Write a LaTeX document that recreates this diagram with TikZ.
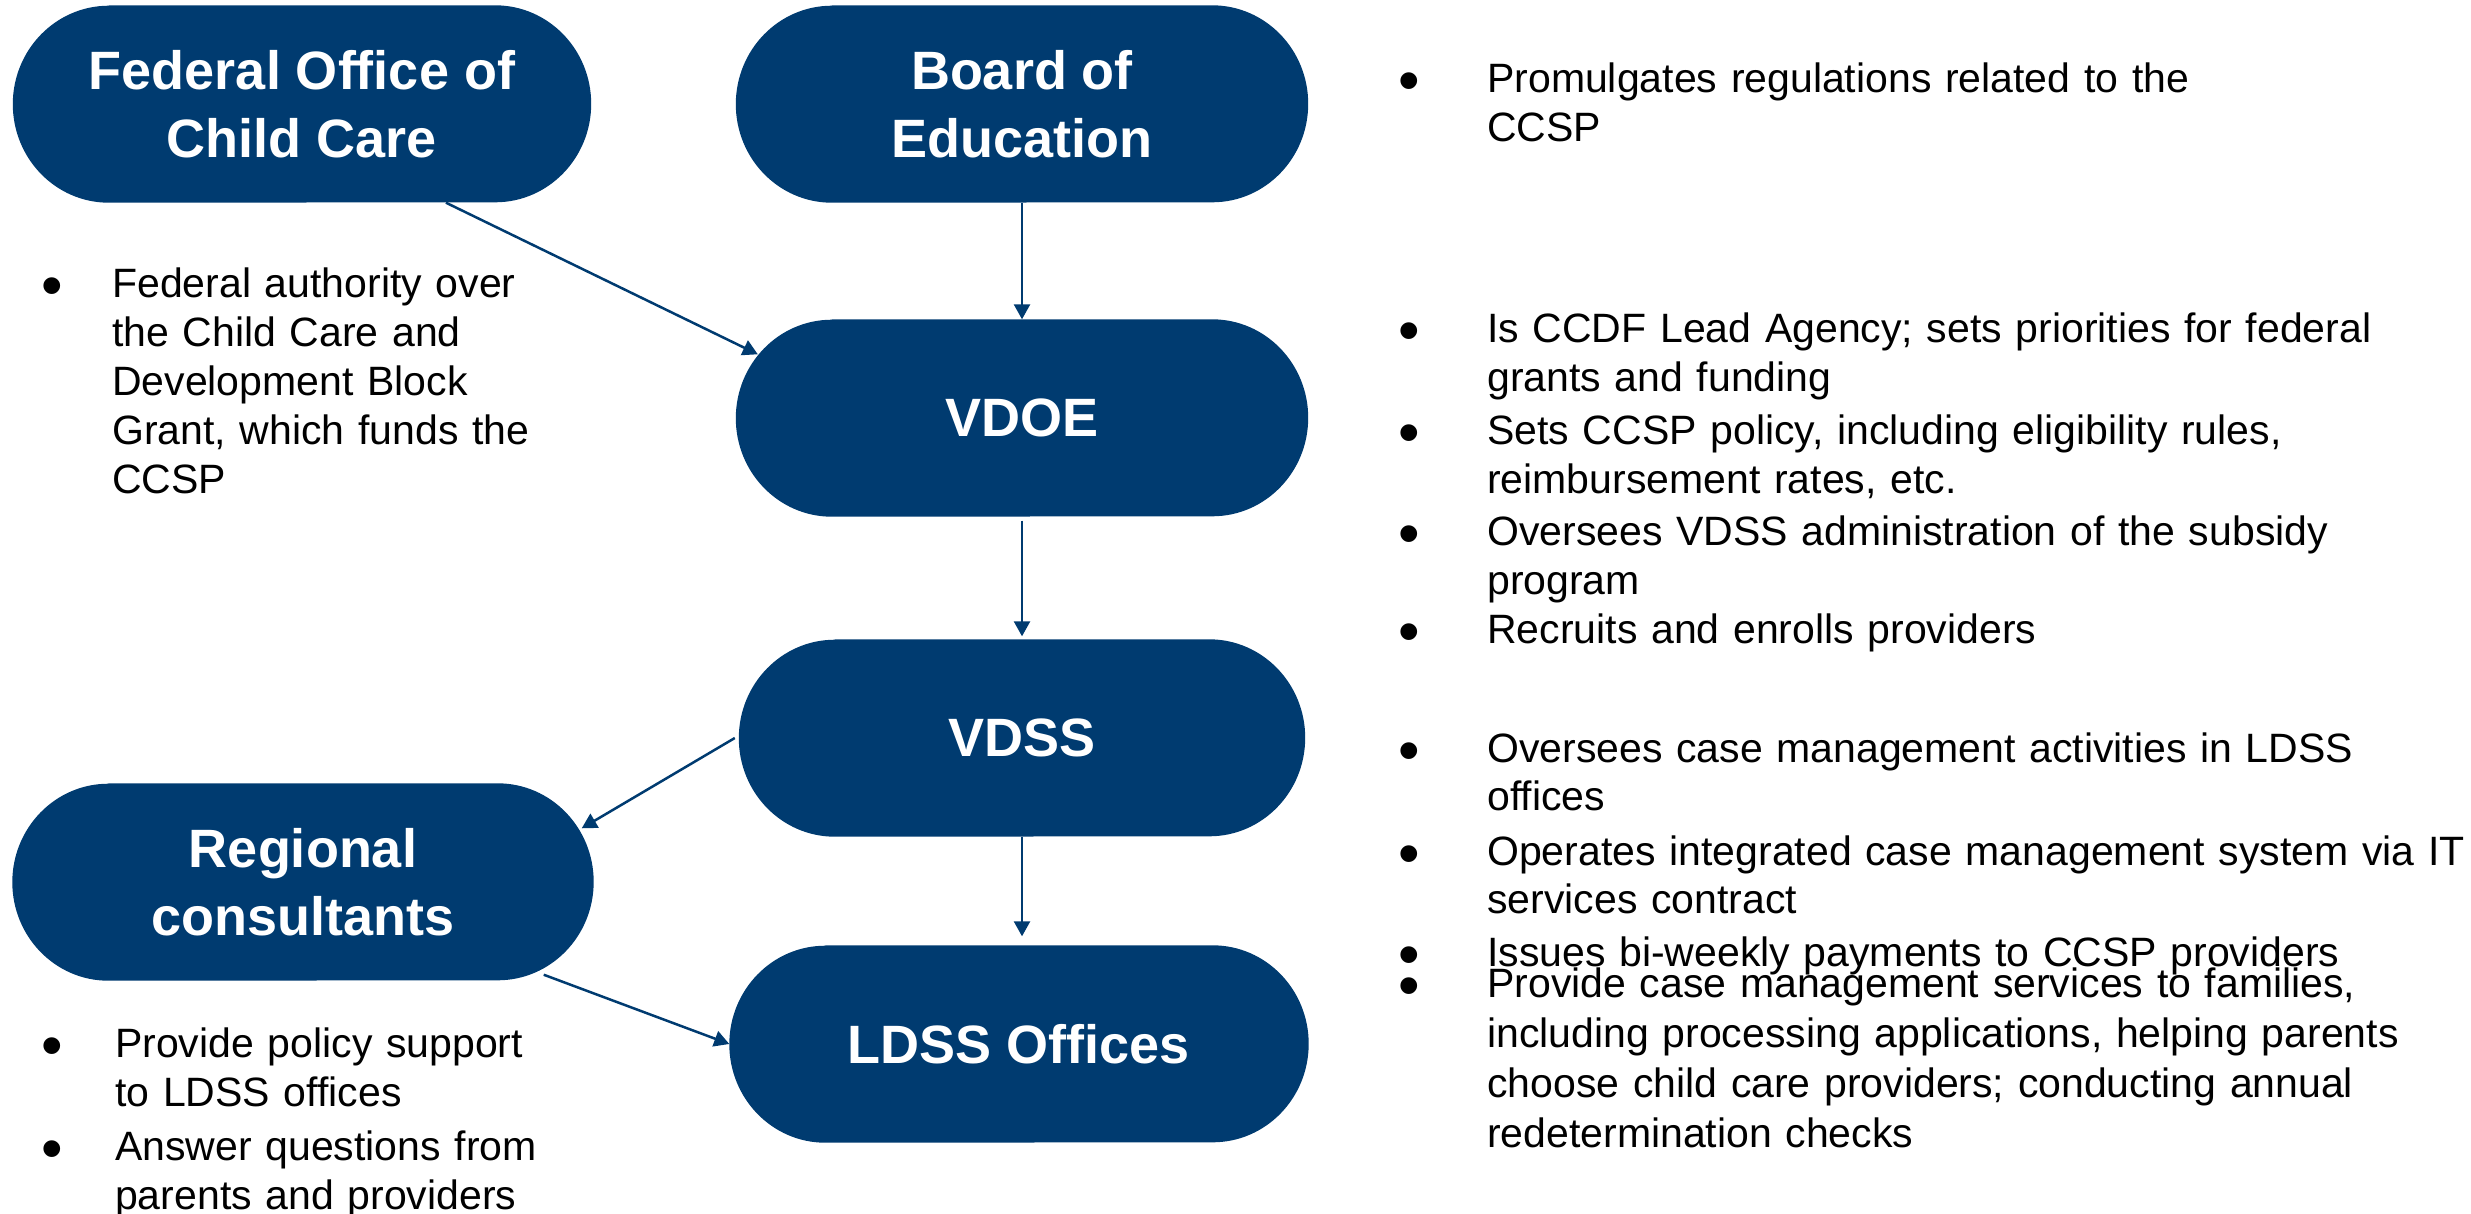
\documentclass[tikz,border=0pt]{standalone}
\usepackage{fontspec}
\usepackage{graphicx}
\setmainfont{Liberation Sans}
\newfontfamily\bodyfont{Liberation Sans}
\usetikzlibrary{arrows.meta,calc,backgrounds}
\definecolor{navy}{RGB}{0,59,112}
\newcommand\bul[1]{\makebox[#1][l]{\makebox[0pt][c]{\raisebox{-9pt}{\scalebox{1.5}{\textbullet}}}}}
\newcommand\ind[1]{\hspace*{#1}}
\newcommand\pillfill[1]{%
  \fill[navy] ([xshift=96pt]#1.north west) -- ([xshift=-96pt]#1.north east)
    arc[start angle=90,end angle=-90,x radius=96pt,y radius=98.5pt]
    -- ([xshift=96pt]#1.south west)
    arc[start angle=270,end angle=90,x radius=96pt,y radius=98.5pt] -- cycle;}
\tikzset{
  pill/.style={rectangle, inner sep=0pt, minimum height=197pt, align=center,
    text=white, font=\bfseries\fontsize{54}{68}\selectfont},
  desc/.style={anchor=base west, inner sep=0pt, align=left, text width=1100pt,
    font=\bodyfont\fontsize{41}{49}\selectfont},
  conn/.style={draw=navy, line width=2.5pt, -{Triangle[length=15pt,width=16pt]}}
}
\begin{document}
\begin{tikzpicture}[x=1pt,y=-1pt]
\useasboundingbox (0,0) rectangle (2471,1213);
\node[pill, minimum width=578pt] (focc) at (302,104) {Federal Office of\\Child Care};
\node[pill, minimum width=572pt] (board) at (1022,104) {Board of\\Education};
\node[pill, minimum width=572pt] (vdoe) at (1022,418) {VDOE};
\node[pill, minimum width=566pt] (vdss) at (1022,738) {VDSS};
\node[pill, minimum width=581pt] (reg) at (303,882) {Regional\\consultants};
\node[pill, minimum width=579pt] (ldss) at (1019,1044) {LDSS Offices};
\begin{scope}[on background layer]
\pillfill{focc}\pillfill{board}\pillfill{vdoe}\pillfill{vdss}\pillfill{reg}\pillfill{ldss}
\end{scope}
% connectors
\draw[conn] ($(focc.south)+(144,0)$) -- ($(vdoe.north west)+(22,35)$);
\draw[conn] (board) -- (vdoe);
\draw[conn, shorten <=4pt, shorten >=3pt] (vdoe) -- (vdss);
\draw[conn] ($(vdss.west)+(-4,0)$) -- ($(reg.north east)+(-12,45)$);
\draw[conn] (vdss.south) -- ($(vdss.south |- ldss.north)+(0,-9)$);
\draw[conn] ($(reg.south east)+(-50,-6)$) -- (ldss.west);
% descriptions
\node[desc, text width=620pt] (da) at (52,297) {\bul{60pt}Federal authority over\\
\ind{60pt}the Child Care and\\
\ind{60pt}Development Block\\
\ind{60pt}Grant, which funds the\\
\ind{60pt}CCSP};
\node[desc] (db) at (1409,92) {\bul{78pt}Promulgates regulations related to the\\
\ind{78pt}CCSP};
\node[desc] (dc) at (1409,342) {\bul{78pt}Is CCDF Lead Agency; sets priorities for federal\\
\ind{78pt}grants and funding\\[4pt]
\bul{78pt}Sets CCSP policy, including eligibility rules,\\
\ind{78pt}reimbursement rates, etc.\\[3pt]
\bul{78pt}Oversees VDSS administration of the subsidy\\
\ind{78pt}program\\
\bul{78pt}Recruits and enrolls providers};
\node[desc, font=\bodyfont\fontsize{41}{48}\selectfont] (dd) at (1409,762) {\bul{78pt}Oversees case management activities in LDSS\\
\ind{78pt}offices\\[7pt]
\bul{78pt}Operates integrated case management system via IT\\
\ind{78pt}services contract\\[5pt]
\bul{78pt}Issues bi-weekly payments to CCSP providers};
\node[desc, font=\bodyfont\fontsize{41}{50}\selectfont] (de) at (1409,997) {\bul{78pt}Provide case management services to families,\\
\ind{78pt}including processing applications, helping parents\\
\ind{78pt}choose child care providers; conducting annual\\
\ind{78pt}redetermination checks};
\node[desc, text width=620pt] (df) at (52,1057) {\bul{63pt}Provide policy support\\
\ind{63pt}to LDSS offices\\[5pt]
\bul{63pt}Answer questions from\\
\ind{63pt}parents and providers};
\end{tikzpicture}
\end{document}
